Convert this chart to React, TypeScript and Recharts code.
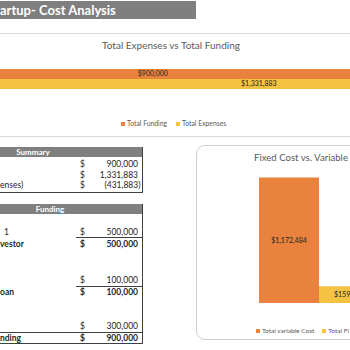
import React from 'react';
import { BarChart, Bar, XAxis, YAxis, LabelList } from 'recharts';

// visible part of the cropped sheet title
const pageTitle = 'artup- Cost Analysis';

const topCategories = ['Total'];
const totalFunding = [900000];
const totalExpenses = [1331883];
const topSeriesNames = ['Total Funding', 'Total Expenses'];
const topTitle = 'Total Expenses vs Total Funding';

const costCategories = ['Cost'];
const variableCost = [1172484];
const fixedCost = [159399];
// visible legend labels of the cropped chart
const costSeriesNames = ['Total variable Cost', 'Total Fi'];
const costTitle = 'Fixed Cost vs. Variable';

// visible (cropped) row label fragments
const summaryLabels = ['', '', 'enses)'];
const summaryValues = [900000, 1331883, -431883];

const fundingLabels = ['1', 'vestor', '', 'oan', '', 'nding'];
const fundingValues = [500000, 500000, 100000, 100000, 300000, 900000];
const fundingBold = [false, true, false, true, false, true];

const ORANGE = '#E8823C';
const YELLOW = '#F5C242';
const FONT = 'Lato, "Liberation Sans", sans-serif';

const topData = topCategories.map((c, i) => ({ name: c, funding: totalFunding[i], expenses: totalExpenses[i] }));
const costData = costCategories.map((c, i) => ({ name: c, variable: variableCost[i], fixed: fixedCost[i] }));

const money = (v: any) => '$' + Number(v).toLocaleString('en-US');
const acct = (v: number) => (v < 0 ? '(' + Math.abs(v).toLocaleString('en-US') + ')' : v.toLocaleString('en-US'));

const abs = (s: React.CSSProperties): React.CSSProperties => ({ position: 'absolute', ...s });

function Legend2({ left, top, names, gap, size }: { left: number; top: number; names: string[]; gap: number; size: number }) {
  const colors = [ORANGE, YELLOW];
  return (
    <div style={abs({ left, top, display: 'flex', alignItems: 'center', fontSize: size, color: '#595959', whiteSpace: 'nowrap', lineHeight: '9px' })}>
      {names.map((n, i) => (
        <span key={n} style={{ display: 'flex', alignItems: 'center', marginRight: gap }}>
          <span style={{ width: 4, height: 4, background: colors[i], display: 'inline-block', marginRight: 2 }} />
          {n}
        </span>
      ))}
    </div>
  );
}

function Row({ y, label, labelLeft, value, bold }: { y: number; label?: string; labelLeft?: number; value: number; bold?: boolean }) {
  const txt: React.CSSProperties = { fontSize: 8.5, color: '#262626', fontWeight: bold ? 700 : 400, lineHeight: '12px', whiteSpace: 'nowrap' };
  return (
    <>
      {label ? <div style={abs({ left: labelLeft ?? 0, top: y - 6, height: 12, ...txt })}>{label}</div> : null}
      <div style={abs({ left: 80, top: y - 6, height: 12, ...txt })}>$</div>
      <div style={abs({ right: 350 - (value < 0 ? 140.5 : 138), top: y - 6, height: 12, textAlign: 'right', ...txt })}>{acct(value)}</div>
    </>
  );
}

export default function App() {
  return (
    <div style={abs({ left: 0, top: 0, width: 350, height: 350, overflow: 'hidden', background: '#fff', fontFamily: FONT })}>
      {/* page title bar */}
      <div style={abs({ left: 0, top: 1, width: 196, height: 18, background: '#7f7f7f' })} />
      <div style={abs({ left: 0, top: 1, height: 18, lineHeight: '18px', color: '#fff', fontWeight: 700, fontSize: 13, whiteSpace: 'nowrap' })}>{pageTitle}</div>

      {/* top chart frame */}
      <div style={abs({ left: -10, top: 33, width: 370, height: 102, borderTop: '1px solid #d9d9d9', borderBottom: '1px solid #d9d9d9' })} />
      <div style={abs({ left: 0, width: 342, top: 39, textAlign: 'center', fontSize: 10, color: '#595959', whiteSpace: 'nowrap' })}>{topTitle}</div>
      <div style={abs({ left: -68, top: 33 })}>
        <BarChart layout="vertical" width={687} height={92} data={topData} margin={{ top: 0, right: 0, bottom: 0, left: 0 }} barGap={0} barSize={10}>
          <XAxis type="number" domain={[0, 1400000]} hide />
          <YAxis type="category" dataKey="name" hide />
          <Bar dataKey="funding" name={topSeriesNames[0]} fill={ORANGE} isAnimationActive={false}>
            <LabelList dataKey="funding" position="center" formatter={money} style={{ fontSize: 7, fill: '#262626', fontFamily: FONT }} />
          </Bar>
          <Bar dataKey="expenses" name={topSeriesNames[1]} fill={YELLOW} isAnimationActive={false}>
            <LabelList dataKey="expenses" position="center" formatter={money} style={{ fontSize: 7, fill: '#262626', fontFamily: FONT }} />
          </Bar>
        </BarChart>
      </div>
      <Legend2 left={121} top={119} names={topSeriesNames} gap={9} size={6.8} />

      {/* Summary table */}
      <div style={abs({ left: 0, top: 147, width: 143, height: 10, background: '#808080' })} />
      <div style={abs({ left: 0, width: 66, top: 147, height: 10, lineHeight: '10px', textAlign: 'center', color: '#fff', fontWeight: 700, fontSize: 8 })}>Summary</div>
      <div style={abs({ left: 142, top: 147, width: 1, height: 46, background: '#404040' })} />
      <div style={abs({ left: 0, top: 192, width: 143, height: 1, background: '#404040' })} />
      <Row y={164} value={summaryValues[0]} />
      <Row y={175} value={summaryValues[1]} />
      <Row y={185} value={summaryValues[2]} label={summaryLabels[2]} labelLeft={0} />

      {/* Funding table */}
      <div style={abs({ left: 0, top: 204, width: 143, height: 10, background: '#808080' })} />
      <div style={abs({ left: 0, width: 100, top: 204, height: 10, lineHeight: '10px', textAlign: 'center', color: '#fff', fontWeight: 700, fontSize: 8 })}>Funding</div>
      <div style={abs({ left: 142, top: 204, width: 1, height: 140, background: '#404040' })} />
      <div style={abs({ left: 76, top: 237, width: 67, height: 1, background: '#404040' })} />
      <div style={abs({ left: 76, top: 286, width: 67, height: 1, background: '#404040' })} />
      <div style={abs({ left: 0, top: 332, width: 143, height: 1, background: '#404040' })} />
      <div style={abs({ left: 0, top: 343, width: 143, height: 1, background: '#404040' })} />
      <Row y={232} value={fundingValues[0]} label={fundingLabels[0]} labelLeft={4} bold={fundingBold[0]} />
      <Row y={244} value={fundingValues[1]} label={fundingLabels[1]} labelLeft={0} bold={fundingBold[1]} />
      <Row y={280} value={fundingValues[2]} bold={fundingBold[2]} />
      <Row y={292} value={fundingValues[3]} label={fundingLabels[3]} labelLeft={0} bold={fundingBold[3]} />
      <Row y={326} value={fundingValues[4]} bold={fundingBold[4]} />
      <Row y={338} value={fundingValues[5]} label={fundingLabels[5]} labelLeft={0} bold={fundingBold[5]} />

      {/* right chart */}
      <div style={abs({ left: 196, top: 145, width: 232, height: 195, border: '1px solid #d0d0d0', borderRadius: 9, boxSizing: 'border-box' })} />
      <div style={abs({ left: 254, top: 152, fontSize: 9.6, color: '#595959', whiteSpace: 'nowrap' })}>{costTitle}</div>
      <div style={abs({ left: 199, top: 152.5 })}>
        <BarChart width={240} height={150.5} data={costData} margin={{ top: 0, right: 0, bottom: 0, left: 0 }} barGap={0} barSize={60}>
          <XAxis type="category" dataKey="name" hide />
          <YAxis type="number" domain={[0, 1400000]} hide />
          <Bar dataKey="variable" name={costSeriesNames[0]} fill={ORANGE} isAnimationActive={false}>
            <LabelList dataKey="variable" position="center" formatter={money} style={{ fontSize: 7, fill: '#262626', fontFamily: FONT }} />
          </Bar>
          <Bar dataKey="fixed" name={costSeriesNames[1]} fill={YELLOW} isAnimationActive={false}>
            <LabelList dataKey="fixed" position="center" formatter={money} style={{ fontSize: 7, fill: '#262626', fontFamily: FONT }} />
          </Bar>
        </BarChart>
      </div>
      <Legend2 left={256} top={326} names={costSeriesNames} gap={8} size={6.5} />
    </div>
  );
}
